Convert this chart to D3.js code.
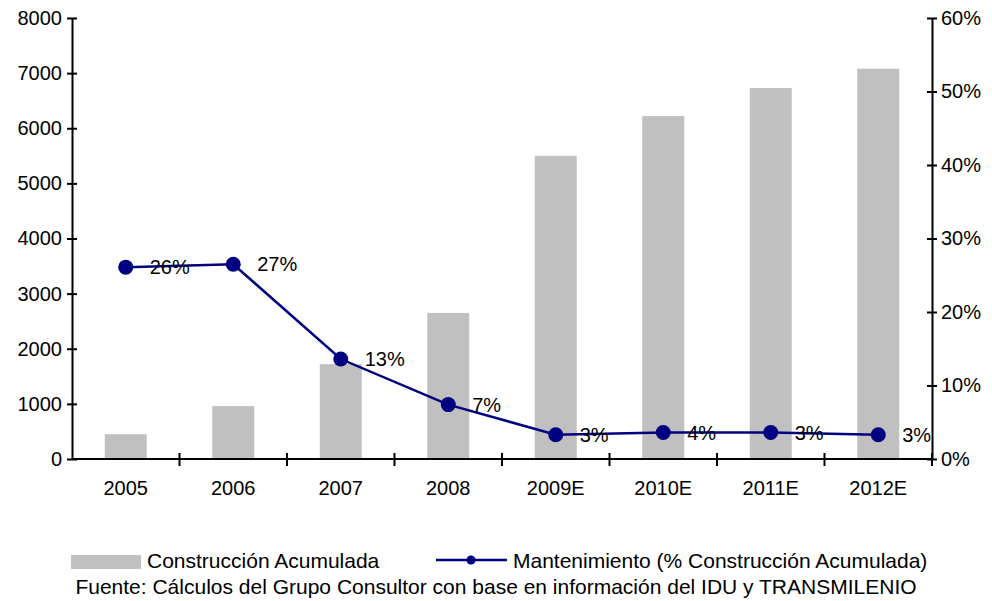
<!DOCTYPE html>
<html><head><meta charset="utf-8">
<script src="https://cdn.jsdelivr.net/npm/d3@7"></script>
<style>body{margin:0;background:#fff}svg{display:block}text{font-family:"Liberation Sans",Arial,sans-serif;fill:#000}</style>
</head><body>
<svg id="c" width="992" height="601"></svg>
<script>
const categories = ["2005","2006","2007","2008","2009E","2010E","2011E","2012E"];
const construccion = [450, 960, 1720, 2650, 5500, 6220, 6730, 7080];
const mantenimiento = [0.261, 0.265, 0.136, 0.074, 0.033, 0.036, 0.036, 0.033];
const mantLabels = ["26%","27%","13%","7%","3%","4%","3%","3%"];
const leftTicks = [0,1000,2000,3000,4000,5000,6000,7000,8000];
const rightTicks = [0,0.1,0.2,0.3,0.4,0.5,0.6];
const legendLabels = ["Construcción Acumulada","Mantenimiento (% Construcción Acumulada)"];
const sourceText = "Fuente: Cálculos del Grupo Consultor con base en información del IDU y TRANSMILENIO";

const svg = d3.select("#c");
const L = 72, R = 932, T = 18, B = 459;
const FS = 20, LFS = 21;
const xb = d3.scaleBand().domain(categories).range([L, R]);
const y = d3.scaleLinear().domain([0, 8000]).range([B, T]);
const y2 = d3.scaleLinear().domain([0, 0.6]).range([B, T]);

// bars
svg.append("g").selectAll("rect").data(construccion).join("rect")
  .attr("x", (d,i) => xb(categories[i]) + xb.bandwidth()/2 - 21)
  .attr("width", 42)
  .attr("y", d => y(d)).attr("height", d => B - y(d))
  .attr("fill", "#c0c0c0");

// left axis
const gl = svg.append("g").attr("transform", `translate(${L},0)`)
  .call(d3.axisLeft(y).tickValues(leftTicks).tickFormat(d3.format("d")).tickSizeInner(5).tickSizeOuter(0).tickPadding(5));
gl.selectAll(".tick line").attr("x2", 5).attr("x1", -5);
// right axis
const gr = svg.append("g").attr("transform", `translate(${R},0)`)
  .call(d3.axisRight(y2).tickValues(rightTicks).tickFormat(d3.format(".0%")).tickSizeInner(5).tickSizeOuter(0).tickPadding(4));
gr.selectAll(".tick line").attr("x1", -5).attr("x2", 5);
// bottom axis
const gb = svg.append("g").attr("transform", `translate(0,${B})`)
  .call(d3.axisBottom(xb).tickSize(0).tickPadding(22));
gb.selectAll(".tick line").remove();
const bounds = categories.map((c) => xb(c)).concat([R]).slice(1);
gb.selectAll(".bt").data(bounds).join("line").attr("class","bt")
  .attr("x1", d => d).attr("x2", d => d).attr("y1", -6).attr("y2", 7).attr("stroke","#000").attr("stroke-width",2);
[gl, gr, gb].forEach(g => {
  g.selectAll(".domain").attr("stroke","#000").attr("stroke-width",2);
  g.selectAll(".tick line").attr("stroke","#000").attr("stroke-width",2);
  g.selectAll("text").attr("font-size", FS).attr("font-family", '"Liberation Sans",Arial,sans-serif').attr("fill","#000");
});
gb.select(".domain").attr("d", `M${L},0H${R}`);

// line
const cx = (i) => xb(categories[i]) + xb.bandwidth()/2;
const line = d3.line().x((d,i) => cx(i)).y(d => y2(d));
svg.append("path").datum(mantenimiento).attr("d", line).attr("fill","none").attr("stroke","#000080").attr("stroke-width",2.5);
svg.append("g").selectAll("circle").data(mantenimiento).join("circle")
  .attr("cx", (d,i) => cx(i)).attr("cy", d => y2(d)).attr("r", 7.5).attr("fill","#000080");
svg.append("g").selectAll("text").data(mantenimiento).join("text")
  .attr("x", (d,i) => cx(i) + 24).attr("y", d => y2(d)).attr("dy","0.35em")
  .attr("font-size", FS).text((d,i) => mantLabels[i]);

// legend
const lg = svg.append("g");
lg.append("rect").attr("x",71).attr("y",555).attr("width",70).attr("height",14).attr("fill","#c0c0c0");
lg.append("text").attr("x",147).attr("y",568).attr("font-size",LFS).text(legendLabels[0]);
lg.append("line").attr("x1",436).attr("x2",507).attr("y1",560).attr("y2",560).attr("stroke","#000080").attr("stroke-width",2.5);
lg.append("circle").attr("cx",471).attr("cy",560).attr("r",4.5).attr("fill","#000080");
lg.append("text").attr("x",513).attr("y",568).attr("font-size",LFS).text(legendLabels[1]);
svg.append("text").attr("x",496).attr("y",594).attr("text-anchor","middle").attr("font-size",LFS).text(sourceText);
</script>
</body></html>
